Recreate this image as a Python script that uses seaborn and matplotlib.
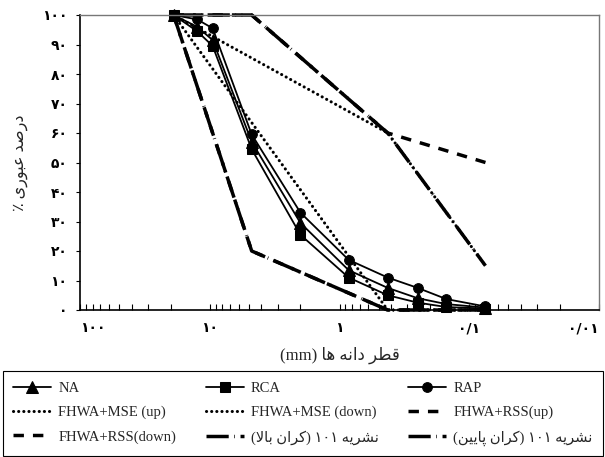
import matplotlib
matplotlib.use("Agg")
import matplotlib.pyplot as plt
from matplotlib.ticker import FixedLocator, FixedFormatter, LogLocator, NullFormatter
import seaborn as sns

# Sieve sizes (mm) and percent passing
sieve = [19, 12.5, 9.5, 4.75, 2.0, 0.85, 0.425, 0.25, 0.15, 0.075]
na = [100, 96, 91.5, 57, 29.5, 13.5, 7.5, 4, 2, 0.8]
rca = [100, 94.5, 89.5, 54.5, 25.5, 11, 5, 2.5, 1, 0.5]
rap = [100, 98.5, 95.5, 59.5, 33, 17, 11, 7.5, 3.7, 1.2]

# Specification envelopes
mse_sieve = [19, 0.425, 0.075]
mse_up = [100, 60, 15]
mse_down = [100, 0, 0]
rss_sieve = [19, 4.75, 0.425, 0.075]
rss_up = [100, 100, 60, 50]
rss_down = [100, 20, 0, 0]
code_sieve = [19, 4.75, 0.425, 0.075]
code_up = [100, 100, 60, 15]
code_down = [100, 20, 0, 0]

y_ticks = [0, 10, 20, 30, 40, 50, 60, 70, 80, 90, 100]
x_ticks = [100, 10, 1, 0.1, 0.01]
x_tick_labels = ["۱۰۰", "۱۰", "۱", "۰/۱", "۰/۰۱"]

x_title = "قطر دانه ها (mm)"
y_title = "درصد عبوری ٪"
labels = ["NA", "RCA", "RAP", "FHWA+MSE (up)", "FHWA+MSE (down)",
          "FHWA+RSS(up)", "FHWA+RSS(down)",
          "نشریه ۱۰۱ (کران بالا)", "نشریه ۱۰۱ (کران پایین)"]

# --- minimal Persian shaping + right-to-left ordering for matplotlib text ---
FORMS = {
    "ا": ("\uFE8D", "\uFE8E", None, None),
    "ب": ("\uFE8F", "\uFE90", "\uFE91", "\uFE92"),
    "پ": ("\uFB56", "\uFB57", "\uFB58", "\uFB59"),
    "د": ("\uFEA9", "\uFEAA", None, None),
    "ر": ("\uFEAD", "\uFEAE", None, None),
    "ش": ("\uFEB5", "\uFEB6", "\uFEB7", "\uFEB8"),
    "ص": ("\uFEB9", "\uFEBA", "\uFEBB", "\uFEBC"),
    "ط": ("\uFEC1", "\uFEC2", "\uFEC3", "\uFEC4"),
    "ع": ("\uFEC9", "\uFECA", "\uFECB", "\uFECC"),
    "ق": ("\uFED5", "\uFED6", "\uFED7", "\uFED8"),
    "ک": ("\uFB8E", "\uFB8F", "\uFB90", "\uFB91"),
    "ل": ("\uFEDD", "\uFEDE", "\uFEDF", "\uFEE0"),
    "ن": ("\uFEE5", "\uFEE6", "\uFEE7", "\uFEE8"),
    "ه": ("\uFEE9", "\uFEEA", "\uFEEB", "\uFEEC"),
    "و": ("\uFEED", "\uFEEE", None, None),
    "ی": ("\uFBFC", "\uFBFD", "\uFBFE", "\uFBFF"),
}
LAM_ALEF = ("\uFEFB", "\uFEFC")


def _dual(c):
    return c in FORMS and FORMS[c][2] is not None


def shape(s):
    out, i, n = [], 0, len(s)
    while i < n:
        c = s[i]
        if c not in FORMS:
            out.append(c)
            i += 1
            continue
        prev_joins = i > 0 and _dual(s[i - 1])
        if c == "ل" and i + 1 < n and s[i + 1] == "ا":
            out.append(LAM_ALEF[1 if prev_joins else 0])
            i += 2
            continue
        next_joins = _dual(c) and i + 1 < n and s[i + 1] in FORMS
        iso, fin, ini, med = FORMS[c]
        if prev_joins and next_joins:
            out.append(med)
        elif prev_joins:
            out.append(fin)
        elif next_joins:
            out.append(ini)
        else:
            out.append(iso)
        i += 1
    return "".join(out)


def _ltr(c):
    return (c.isascii() and c.isalnum()) or ("\u06F0" <= c <= "\u06F9")


def rtl(s):
    if not any(c in FORMS for c in s):
        return s
    s = shape(s)
    runs = []
    for c in s:
        l = _ltr(c)
        if runs and runs[-1][0] == l:
            runs[-1][1].append(c)
        else:
            runs.append([l, [c]])
    mirror = {"(": ")", ")": "("}
    parts = []
    for l, cs in reversed(runs):
        if l:
            parts.append("".join(cs))
        else:
            parts.append("".join(mirror.get(c, c) for c in reversed(cs)))
    return "".join(parts)


sns.set_style("ticks")
plt.rcParams["font.family"] = ["Liberation Serif", "DejaVu Sans"]
plt.rcParams["lines.scale_dashes"] = False

fig = plt.figure(figsize=(6.05, 4.57), dpi=100)
ax = fig.add_axes([80 / 605, 1 - 310 / 457, 519 / 605, 295 / 457])

dotted = (0, (0.1, 3.6))
dashed = (0, (7.5, 6.5))
dashdot = (0, (16, 4, 0.5, 4))

common = dict(ax=ax, color="black", errorbar=None, sort=False, clip_on=False)

sns.lineplot(x=mse_sieve, y=mse_up, lw=2.2, linestyle=dotted,
             dash_capstyle="round", label=labels[3], **common)
sns.lineplot(x=mse_sieve, y=mse_down, lw=2.2, linestyle=dotted,
             dash_capstyle="round", label=labels[4], **common)
sns.lineplot(x=rss_sieve, y=rss_up, lw=2.5, linestyle=dashed,
             dash_capstyle="butt", label=labels[5], **common)
sns.lineplot(x=rss_sieve, y=rss_down, lw=2.5, linestyle=dashed,
             dash_capstyle="butt", label=labels[6], **common)
sns.lineplot(x=code_sieve, y=code_up, lw=2.5, linestyle=dashdot,
             dash_capstyle="butt", label=rtl(labels[7]), **common)
sns.lineplot(x=code_sieve, y=code_down, lw=2.5, linestyle=dashdot,
             dash_capstyle="butt", label=rtl(labels[8]), **common)

mk = dict(markeredgecolor="black", markerfacecolor="black", lw=1.3)
sns.lineplot(x=sieve, y=na, marker="^", markersize=8, label=labels[0], **mk, **common)
sns.lineplot(x=sieve, y=rca, marker="s", markersize=7, label=labels[1], **mk, **common)
sns.lineplot(x=sieve, y=rap, marker="o", markersize=7, label=labels[2], **mk, **common)

ax.set_xscale("log")
ax.set_xlim(100, 0.01)
ax.set_ylim(0, 100)

ax.xaxis.set_major_locator(FixedLocator(x_ticks))
ax.xaxis.set_major_formatter(FixedFormatter(x_tick_labels))
ax.xaxis.set_minor_locator(LogLocator(base=10, subs=range(2, 10)))
ax.xaxis.set_minor_formatter(NullFormatter())
ax.yaxis.set_major_locator(FixedLocator(y_ticks))
ax.yaxis.set_major_formatter(FixedFormatter(
    [str(v).translate(str.maketrans("0123456789", "۰۱۲۳۴۵۶۷۸۹")) for v in y_ticks]))

ax.tick_params(axis="x", which="both", direction="in", length=4, width=0.8,
               pad=8, labelsize=10, colors="black")
ax.tick_params(axis="y", which="major", direction="out", length=3, width=0.8,
               pad=6, labelsize=10, colors="black")
fig.canvas.draw()
for lab in ax.get_xticklabels() + ax.get_yticklabels():
    lab.set_family("DejaVu Sans")
    lab.set_fontweight("bold")
xlabs = ax.get_xticklabels()
xlabs[0].set_horizontalalignment("left")
xlabs[-1].set_horizontalalignment("right")

for side in ("left", "bottom"):
    ax.spines[side].set_color("black")
    ax.spines[side].set_linewidth(1.2)
for side in ("top", "right"):
    ax.spines[side].set_color("#777777")
    ax.spines[side].set_linewidth(1.0)

ax.set_xlabel(rtl(x_title), fontsize=12, family=["Liberation Serif", "DejaVu Sans"],
              va="center")
ax.xaxis.set_label_coords(0.5, -45 / 295)
ax.set_ylabel(rtl(y_title), fontsize=11.5, family=["Liberation Serif", "DejaVu Sans"],
              va="center")
ax.yaxis.set_label_coords(-60 / 519, 0.5)

handles, labs = ax.get_legend_handles_labels()
ax.get_legend().remove()
by_label = dict(zip(labs, handles))
order = [labels[0], labels[3], labels[6],
         labels[1], labels[4], rtl(labels[7]),
         labels[2], labels[5], rtl(labels[8])]
fig.legend([by_label[k] for k in order], order, loc="lower left",
           bbox_to_anchor=(3 / 605, 1 / 457, 600 / 605, 82 / 457),
           mode="expand", ncol=3, frameon=True, fancybox=False,
           edgecolor="black", framealpha=1, borderaxespad=0,
           handlelength=2.6, handletextpad=0.5, labelspacing=0.75,
           fontsize=10.5, borderpad=0.7)
fig.legends[0].get_frame().set_linewidth(0.8)

fig.savefig("out.png", dpi=100)
